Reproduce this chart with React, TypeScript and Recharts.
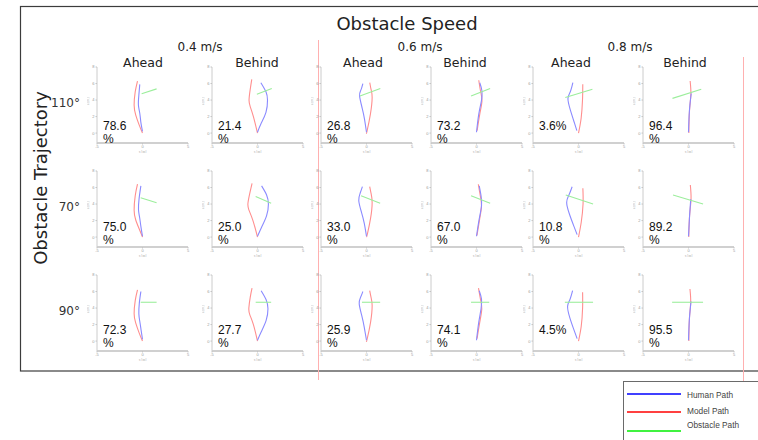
import React from 'react';
import { LineChart, Line, XAxis, YAxis } from 'recharts';

// ---------- data ----------
const speeds = ['0.4 m/s', '0.6 m/s', '0.8 m/s'];
const sides = ['Ahead', 'Behind'];
const trajectories = ['110°', '70°', '90°'];
const shares110 = [78.6, 21.4, 26.8, 73.2, 3.6, 96.4];
const shares70 = [75.0, 25.0, 33.0, 67.0, 10.8, 89.2];
const shares90 = [72.3, 27.7, 25.9, 74.1, 4.5, 95.5];
const seriesNames = ['Human Path', 'Model Path', 'Obstacle Path'];
const xTicks = [-5, 0, 5];
const zTicks = [0, 2, 4, 6, 8];

// paths as [x, z] pairs, one list per column (0.4 Ahead, 0.4 Behind, 0.6 Ahead, 0.6 Behind, 0.8 Ahead, 0.8 Behind)
const human110 = [
  [[0, 0.2], [-0.18, 1.3], [-0.3, 2.4], [-0.45, 3.4], [-0.4, 4.6], [-0.3, 5.9]],
  [[0, 0.1], [0.37, 1.1], [0.93, 2.5], [1.1, 4], [0.93, 5], [0.37, 6.1]],
  [[0, 0.1], [-0.22, 1.7], [-0.47, 3], [-0.76, 4.5], [-0.62, 5.2], [-0.4, 6]],
  [[0, 0.1], [0.25, 2.3], [0.54, 3.9], [0.6, 5.1], [0.36, 6.1]],
  [[-0.18, 0.3], [-0.44, 1.2], [-0.9, 2.8], [-1.16, 4.2], [-0.9, 5], [-0.62, 6.1]],
  [[0, 0.1], [0.1, 2.7], [0.3, 4.8]],
];
const model110 = [
  [[0, 0], [-0.37, 1], [-0.75, 2.2], [-0.92, 3.4], [-0.8, 5], [-0.55, 6.3]],
  [[0, 0], [-0.45, 2], [-0.8, 3.2], [-0.93, 4], [-0.8, 5.3], [-0.63, 6.5]],
  [[0, 0], [0.07, 0.3], [0.43, 2.3], [0.62, 4.3], [0.5, 5.3], [0.36, 6.1]],
  [[0.07, 0.3], [0.36, 2.3], [0.6, 3.9], [0.46, 5], [0.25, 6.4]],
  [[0, 0], [0.29, 1.8], [0.44, 4], [0.47, 5.9]],
  [[0.04, 0], [0.11, 2.7], [0.26, 4.7], [0.18, 6.3]],
];
const obstacle110 = [
  [[-0.1, 4.75], [1.55, 5.35]],
  [[-0.07, 4.7], [1.57, 5.4]],
  [[-0.72, 4.5], [1.52, 5.4]],
  [[-0.6, 4.5], [1.5, 5.4]],
  [[-1.45, 4.3], [1.53, 5.3]],
  [[-1.76, 4.2], [1.4, 5.3]],
];
const human70 = [
  [[0, 0.1], [-0.18, 1.3], [-0.32, 2.4], [-0.44, 3.3], [-0.38, 4.6], [-0.18, 6.2]],
  [[0, 0.1], [0.45, 1.2], [1.0, 2.6], [1.2, 4.0], [1.0, 5.1], [0.45, 6.2]],
  [[0, 0.1], [-0.25, 1.7], [-0.55, 3], [-0.85, 4.4], [-0.7, 5.3], [-0.45, 6.1]],
  [[0, 0.1], [0.3, 2.2], [0.55, 3.8], [0.5, 5], [0.3, 6.2]],
  [[-0.15, 0.3], [-0.5, 1.3], [-1.0, 2.8], [-1.3, 4.2], [-1.05, 5.1], [-0.7, 6.1]],
  [[0, 0.1], [0.12, 2.6], [0.25, 4.6]],
];
const model70 = [
  [[0, 0], [-0.37, 1], [-0.75, 2.1], [-0.92, 3.25], [-0.8, 5], [-0.55, 6.4]],
  [[0, 0], [-0.5, 2], [-0.95, 3.3], [-1.05, 4.1], [-0.85, 5.3], [-0.6, 6.5]],
  [[0, 0], [0.1, 0.4], [0.45, 2.3], [0.62, 4.2], [0.5, 5.3], [0.35, 6.1]],
  [[0.05, 0.2], [0.35, 2.2], [0.55, 3.8], [0.42, 5], [0.2, 6.4]],
  [[0, 0], [0.3, 1.8], [0.5, 4], [0.48, 5.9]],
  [[0.03, 0], [0.12, 2.6], [0.28, 4.6], [0.2, 6.3]],
];
const obstacle70 = [
  [[-0.2, 4.75], [1.55, 4.15]],
  [[-0.2, 4.9], [1.5, 4.1]],
  [[-0.6, 5.0], [1.5, 4.1]],
  [[-0.6, 5.0], [1.5, 4.1]],
  [[-1.4, 5.1], [1.6, 4.0]],
  [[-1.7, 5.1], [1.6, 4.0]],
];
const human90 = [
  [[0, 0.2], [-0.15, 1.3], [-0.3, 2.4], [-0.4, 3.3], [-0.35, 4.6], [-0.18, 6.0]],
  [[0, 0.1], [0.4, 1.1], [0.95, 2.5], [1.15, 3.9], [0.95, 5], [0.4, 6.1]],
  [[0, 0.1], [-0.25, 1.7], [-0.5, 3], [-0.8, 4.5], [-0.65, 5.3], [-0.4, 6]],
  [[0, 0.1], [0.25, 2.3], [0.5, 3.9], [0.55, 5.1], [0.3, 6.1]],
  [[-0.15, 0.3], [-0.45, 1.2], [-0.95, 2.8], [-1.2, 4.2], [-0.95, 5], [-0.65, 6.1]],
  [[0, 0.1], [0.1, 2.7], [0.28, 4.8]],
];
const model90 = [
  [[0, 0], [-0.37, 1], [-0.75, 2.2], [-0.92, 3.3], [-0.8, 4.9], [-0.55, 6.2]],
  [[0, 0], [-0.45, 2], [-0.85, 3.2], [-0.95, 4], [-0.8, 5.3], [-0.6, 6.4]],
  [[0, 0], [0.08, 0.3], [0.45, 2.3], [0.62, 4.3], [0.5, 5.3], [0.35, 6.1]],
  [[0.06, 0.3], [0.36, 2.3], [0.58, 3.9], [0.45, 5], [0.22, 6.4]],
  [[0, 0], [0.3, 1.8], [0.45, 4], [0.45, 5.9]],
  [[0.04, 0], [0.1, 2.7], [0.24, 4.7], [0.16, 6.3]],
];
const obstacle90 = [
  [[-0.2, 4.7], [1.55, 4.7]],
  [[-0.2, 4.7], [1.5, 4.7]],
  [[-0.5, 4.7], [1.5, 4.7]],
  [[-0.6, 4.7], [1.4, 4.7]],
  [[-1.5, 4.7], [1.6, 4.7]],
  [[-1.8, 4.7], [1.6, 4.7]],
];

// ---------- layout / style ----------
const COL_AXIS_X = [97, 212, 321, 431, 533, 643];
const HEADER_X = [143, 257, 363, 465, 571, 685];
const SPEED_X = [200, 420, 630];
const ROW_TOP = [67, 171, 275];
const PCT_Y = [130, 231, 334];
const PLOT_W = 91;
const PLOT_H = 76;
const YAXIS_W = 10;
const XAXIS_H = 10;
const M_TOP = 4;
const M_RIGHT = 4;
const PATH_COLORS = ['#8a8aff', '#ff8e8e', '#9cee9c'];
const LEGEND_COLORS = ['#0000ff', '#ff0000', '#00ee00'];
const SANS = '"DejaVu Sans", sans-serif';
const ARIAL = '"Liberation Sans", Arial, sans-serif';

const rows = [
  { human: human110, model: model110, obstacle: obstacle110, shares: shares110 },
  { human: human70, model: model70, obstacle: obstacle70, shares: shares70 },
  { human: human90, model: model90, obstacle: obstacle90, shares: shares90 },
];

const toPts = (arr: number[][]) => arr.map(([x, z]) => ({ x, z }));

function Panel({ human, model, obstacle }: { human: number[][]; model: number[][]; obstacle: number[][] }) {
  const tickStyle = { fontSize: 4, fill: '#9a9a9a', fontFamily: ARIAL };
  return (
    <LineChart
      width={YAXIS_W + PLOT_W + M_RIGHT}
      height={M_TOP + PLOT_H + XAXIS_H}
      margin={{ top: M_TOP, right: M_RIGHT, left: 0, bottom: 0 }}
    >
      <XAxis
        type="number"
        dataKey="x"
        domain={[-5, 5]}
        ticks={xTicks}
        interval={0}
        allowDataOverflow
        height={XAXIS_H}
        tick={tickStyle}
        tickSize={1.5}
        tickMargin={1}
        tickLine={{ stroke: '#c4c4c4' }}
        axisLine={{ stroke: '#c0c0c0', strokeWidth: 1.3 }}
        label={{ value: 'x [m]', position: 'insideBottom', offset: 0, fontSize: 3.5, fill: '#aaa' }}
      />
      <YAxis
        type="number"
        dataKey="z"
        domain={[-1.2, 8]}
        ticks={zTicks}
        interval={0}
        allowDataOverflow
        width={YAXIS_W}
        tick={tickStyle}
        tickSize={1.5}
        tickMargin={1}
        tickLine={{ stroke: '#c4c4c4' }}
        axisLine={{ stroke: '#cccccc', strokeWidth: 1 }}
        label={{ value: 'z [m]', angle: -90, position: 'insideLeft', offset: 1, fontSize: 3.5, fill: '#aaa' }}
      />
      <Line data={toPts(model)} dataKey="z" type="natural" stroke={PATH_COLORS[1]} strokeWidth={1.1} dot={false} isAnimationActive={false} />
      <Line data={toPts(human)} dataKey="z" type="natural" stroke={PATH_COLORS[0]} strokeWidth={1.1} dot={false} isAnimationActive={false} />
      <Line data={toPts(obstacle)} dataKey="z" type="linear" stroke={PATH_COLORS[2]} strokeWidth={1.1} dot={false} isAnimationActive={false} />
    </LineChart>
  );
}

export default function App() {
  return (
    <div style={{ position: 'fixed', left: 0, top: 0, width: 758, height: 440, background: '#fff', overflow: 'hidden' }}>
      <svg width={758} height={440} style={{ position: 'absolute', left: 0, top: 0 }}>
        <rect x={20.5} y={6.5} width={800} height={364.5} fill="none" stroke="#3c3c3c" strokeWidth={1.2} />
        <line x1={318.5} y1={40} x2={318.5} y2={380} stroke="#ffb0b0" strokeWidth={1} />
        <line x1={743.5} y1={57} x2={743.5} y2={381} stroke="#ffb0b0" strokeWidth={1} />
      </svg>
      {rows.map((row, r) =>
        COL_AXIS_X.map((ax, c) => (
          <div key={`${r}-${c}`} style={{ position: 'absolute', left: ax - YAXIS_W, top: ROW_TOP[r] - M_TOP }}>
            <Panel human={row.human[c]} model={row.model[c]} obstacle={row.obstacle[c]} />
          </div>
        ))
      )}
      <svg width={758} height={440} style={{ position: 'absolute', left: 0, top: 0, pointerEvents: 'none' }}>
        <text x={407} y={30} textAnchor="middle" fontSize={18} fontFamily={SANS} fill="#222">Obstacle Speed</text>
        {speeds.map((s, i) => (
          <text key={s} x={SPEED_X[i]} y={51} textAnchor="middle" fontSize={12} fontFamily={SANS} fill="#222">{s}</text>
        ))}
        {HEADER_X.map((hx, c) => (
          <text key={c} x={hx} y={66.5} textAnchor="middle" fontSize={12.5} fontFamily={SANS} fill="#222">{sides[c % 2]}</text>
        ))}
        <text x={40} y={178} textAnchor="middle" dominantBaseline="central" fontSize={18} fontFamily={SANS} fill="#222" transform="rotate(-90 40 178)">Obstacle Trajectory</text>
        {trajectories.map((t, r) => (
          <text key={t} x={80} y={ROW_TOP[r] + 40} textAnchor="end" fontSize={12} fontFamily={SANS} fill="#333">{t}</text>
        ))}
        {rows.map((row, r) =>
          row.shares.map((v, c) => {
            const x = COL_AXIS_X[c] + 6;
            const y = PCT_Y[r];
            return v < 10 ? (
              <text key={`${r}-${c}`} x={x} y={y} fontSize={12} fontFamily={ARIAL} fill="#111">{`${v.toFixed(1)}%`}</text>
            ) : (
              <text key={`${r}-${c}`} x={x} y={y} fontSize={12} fontFamily={ARIAL} fill="#111">
                <tspan x={x} y={y}>{v.toFixed(1)}</tspan>
                <tspan x={x} y={y + 13}>%</tspan>
              </text>
            );
          })
        )}
        <rect x={623.5} y={381.5} width={200} height={80} fill="#fff" stroke="#6a6a6a" strokeWidth={1} />
        {seriesNames.map((n, i) => {
          const ly = [394, 412, 431][i];
          const ty = [398, 414, 428][i];
          return (
            <g key={n}>
              <line x1={627} y1={ly} x2={681} y2={ly} stroke={LEGEND_COLORS[i]} strokeWidth={1.6} />
              <text x={687} y={ty} fontSize={8.3} fontFamily={ARIAL} fill="#444">{n}</text>
            </g>
          );
        })}
      </svg>
    </div>
  );
}
